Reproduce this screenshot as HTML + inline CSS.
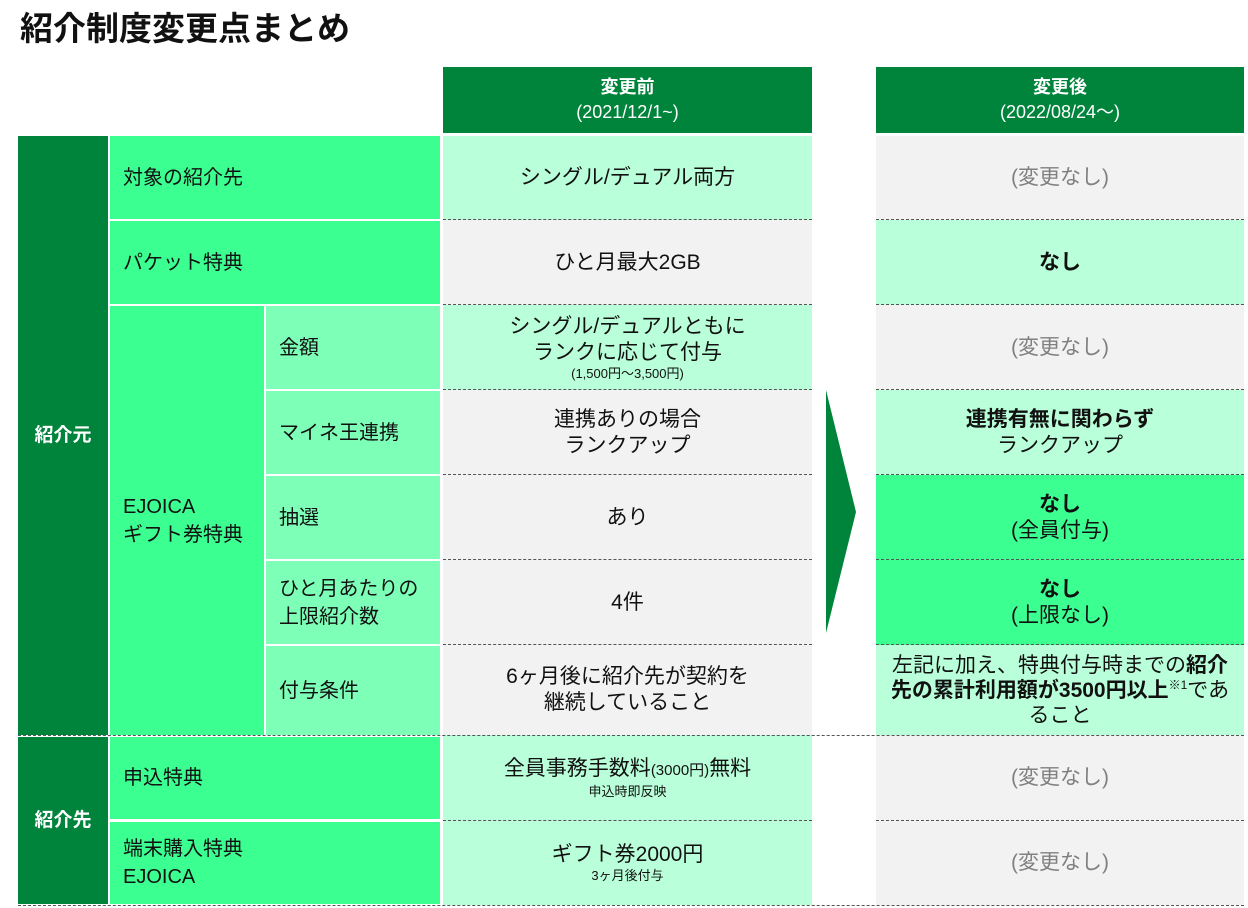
<!DOCTYPE html>
<html><head><meta charset="utf-8"><style>
body{margin:0;width:1248px;height:908px;background:#fff;position:relative;overflow:hidden;font-family:"Liberation Sans","Noto Sans CJK JP",sans-serif;color:#111}
div{position:absolute;box-sizing:border-box}
.c{display:flex;flex-direction:column;align-items:center;justify-content:center;text-align:center;font-size:21px;line-height:26px}
.l{display:flex;flex-direction:column;justify-content:center;font-size:20px;line-height:28px;padding-left:13px}
.dg{background:#00843c;color:#fff}
.bg{background:#3cff92}
.mg{background:#7dffb8}
.lg{background:#b9ffd9}
.gr{background:#f2f2f2}
.s{font-size:13px;line-height:16px}
.n{color:#808080}
.d{height:0;border-top:1.5px dashed #555}
b{font-weight:bold}
</style></head><body>
<div style="left:20px;top:8px;font-size:33px;font-weight:bold;line-height:42px">紹介制度変更点まとめ</div>
<div class="c dg" style="left:443px;top:67px;width:369px;height:66px;font-size:18px;line-height:25px"><b>変更前</b><span>(2021/12/1~)</span></div>
<div class="c dg" style="left:876px;top:67px;width:368px;height:66px;font-size:18px;line-height:25px"><b>変更後</b><span>(2022/08/24～)</span></div>

<div class="c dg" style="left:18px;top:136px;width:90px;height:599px;font-weight:bold;font-size:19px">紹介元</div>
<div class="c dg" style="left:18px;top:737px;width:90px;height:167px;font-weight:bold;font-size:19px">紹介先</div>

<div class="l bg" style="left:110px;top:136px;width:330px;height:83px">対象の紹介先</div>
<div class="l bg" style="left:110px;top:221px;width:330px;height:83px">パケット特典</div>
<div class="l bg" style="left:110px;top:306px;width:154px;height:429px">EJOICA<br>ギフト券特典</div>
<div class="l mg" style="left:266px;top:306px;width:174px;height:83px">金額</div>
<div class="l mg" style="left:266px;top:391px;width:174px;height:83px">マイネ王連携</div>
<div class="l mg" style="left:266px;top:476px;width:174px;height:83px">抽選</div>
<div class="l mg" style="left:266px;top:561px;width:174px;height:83px">ひと月あたりの<br>上限紹介数</div>
<div class="l mg" style="left:266px;top:646px;width:174px;height:89px">付与条件</div>
<div class="l bg" style="left:110px;top:737px;width:330px;height:82px">申込特典</div>
<div class="l bg" style="left:110px;top:822px;width:330px;height:82px">端末購入特典<br>EJOICA</div>

<div class="c lg" style="left:443px;top:136px;width:369px;height:84px">シングル/デュアル両方</div>
<div class="c gr" style="left:443px;top:220px;width:369px;height:85px">ひと月最大2GB</div>
<div class="c lg" style="left:443px;top:305px;width:369px;height:85px">シングル/デュアルともに<br>ランクに応じて付与<span class="s">(1,500円～3,500円)</span></div>
<div class="c gr" style="left:443px;top:390px;width:369px;height:85px">連携ありの場合<br>ランクアップ</div>
<div class="c gr" style="left:443px;top:475px;width:369px;height:85px">あり</div>
<div class="c gr" style="left:443px;top:560px;width:369px;height:85px">4件</div>
<div class="c gr" style="left:443px;top:645px;width:369px;height:90px">6ヶ月後に紹介先が契約を<br>継続していること</div>
<div class="c lg" style="left:443px;top:735px;width:369px;height:85px"><span>全員事務手数料<span style="font-size:15px">(3000円)</span>無料</span><span class="s">申込時即反映</span></div>
<div class="c lg" style="left:443px;top:820px;width:369px;height:85px">ギフト券2000円<span class="s">3ヶ月後付与</span></div>

<div class="c gr n" style="left:876px;top:136px;width:368px;height:84px">(変更なし)</div>
<div class="c lg" style="left:876px;top:220px;width:368px;height:85px"><b>なし</b></div>
<div class="c gr n" style="left:876px;top:305px;width:368px;height:85px">(変更なし)</div>
<div class="c lg" style="left:876px;top:390px;width:368px;height:85px"><b>連携有無に関わらず</b>ランクアップ</div>
<div class="c bg" style="left:876px;top:475px;width:368px;height:85px"><b>なし</b>(全員付与)</div>
<div class="c bg" style="left:876px;top:560px;width:368px;height:85px"><b>なし</b>(上限なし)</div>
<div class="c lg" style="left:876px;top:645px;width:368px;height:90px;padding:0 12px;line-height:25px"><span>左記に加え、特典付与時までの<b>紹介先の累計利用額が3500円以上</b><span style="font-size:12px;vertical-align:super;line-height:0">※1</span>であること</span></div>
<div class="c gr n" style="left:876px;top:735px;width:368px;height:85px">(変更なし)</div>
<div class="c gr n" style="left:876px;top:820px;width:368px;height:85px">(変更なし)</div>

<svg style="position:absolute;left:826px;top:390px" width="34" height="245"><polygon points="0,0 30,122 0,243" fill="#00843c"/></svg>

<div class="d" style="left:443px;top:219px;width:369px"></div><div class="d" style="left:876px;top:219px;width:368px"></div>
<div class="d" style="left:443px;top:304px;width:369px"></div><div class="d" style="left:876px;top:304px;width:368px"></div>
<div class="d" style="left:443px;top:389px;width:369px"></div><div class="d" style="left:876px;top:389px;width:368px"></div>
<div class="d" style="left:443px;top:474px;width:369px"></div><div class="d" style="left:876px;top:474px;width:368px"></div>
<div class="d" style="left:443px;top:559px;width:369px"></div><div class="d" style="left:876px;top:559px;width:368px"></div>
<div class="d" style="left:443px;top:644px;width:369px"></div><div class="d" style="left:876px;top:644px;width:368px"></div>
<div class="d" style="left:18px;top:735px;width:1226px"></div>
<div class="d" style="left:443px;top:820px;width:369px"></div><div class="d" style="left:876px;top:820px;width:368px"></div>
<div class="d" style="left:18px;top:905px;width:1226px"></div>
</body></html>
